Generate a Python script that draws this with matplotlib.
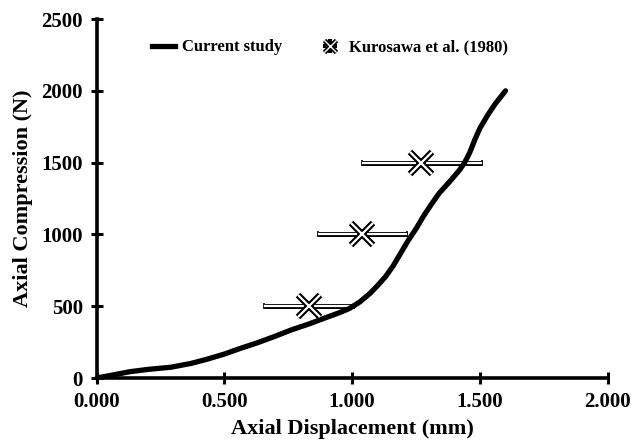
import numpy as np
import matplotlib
matplotlib.use("Agg")
import matplotlib.pyplot as plt
from matplotlib.lines import Line2D
from matplotlib.legend_handler import HandlerTuple

plt.rcParams['font.family'] = ['Liberation Serif', 'DejaVu Serif']
plt.rcParams['font.weight'] = 'bold'

# current study curve (displacement mm, force N)
disp = [0.0, 0.06, 0.13, 0.20, 0.29, 0.37, 0.43, 0.50, 0.56, 0.63, 0.70, 0.76,
        0.83, 0.89, 0.95, 0.99, 1.03, 1.07, 1.10, 1.13, 1.16, 1.19, 1.22, 1.25,
        1.28, 1.31, 1.34, 1.38, 1.42, 1.44, 1.46, 1.48, 1.50, 1.53, 1.56, 1.60]
force = [0, 20, 44, 60, 75, 102, 130, 167, 205, 246, 292, 334,
         376, 416, 455, 485, 530, 590, 645, 705, 780, 870, 960, 1040,
         1130, 1210, 1286, 1365, 1448, 1500, 1570, 1660, 1740, 1830, 1910, 2000]

# Kurosawa et al. (1980)
kx = [0.83, 1.04, 1.27]
ky = [500, 1000, 1500]
kerr_lo = [0.176, 0.174, 0.232]
kerr_hi = [0.176, 0.175, 0.240]

xticks = [0.0, 0.5, 1.0, 1.5, 2.0]
yticks = [0, 500, 1000, 1500, 2000, 2500]

fig = plt.figure(figsize=(6.34, 4.44), dpi=100)
ax = fig.add_axes([0.1525, 0.1486, 0.806, 0.8085])

# hollow error bars: black bar with white inside
xe = np.array([kerr_lo, kerr_hi])
ax.errorbar(kx, ky, xerr=xe, fmt='none', ecolor='black', elinewidth=3.6,
            capsize=2.5, capthick=1.2, zorder=2)
ax.hlines(ky, np.array(kx) - np.array(kerr_lo), np.array(kx) + np.array(kerr_hi),
          colors='white', linewidth=1.6, zorder=3)

ax.plot(disp, force, color='black', lw=3.8, solid_capstyle='round',
        solid_joinstyle='round', zorder=4)

# double-line X markers
ax.plot(kx, ky, ls='none', marker='x', ms=16, mew=4.6, mec='black', zorder=5)
ax.plot(kx, ky, ls='none', marker='x', ms=16, mew=1.6, mec='white', zorder=6)

ax.set_xlim(0, 2.0)
ax.set_ylim(0, 2500)
ax.set_xticks(xticks)
ax.set_xticklabels(['%.3f' % v for v in xticks])
ax.set_yticks(yticks)
ax.tick_params(direction='inout', length=8, width=2.2, labelsize=15, pad=6)
for s in ['top', 'right']:
    ax.spines[s].set_visible(False)
for s in ['left', 'bottom']:
    ax.spines[s].set_linewidth(2.6)

ax.set_xlabel('Axial Displacement (mm)', fontsize=16, fontweight='bold', labelpad=5)
ax.set_ylabel('Axial Compression (N)', fontsize=16, fontweight='bold', labelpad=6)

h_line = Line2D([], [], color='black', lw=3.8)
h_m1 = Line2D([], [], ls='none', marker='x', ms=9, mew=3.4, mec='black')
h_m2 = Line2D([], [], ls='none', marker='+', ms=10, mew=3.0, mec='black')
h_m3 = Line2D([], [], ls='none', marker='x', ms=9, mew=1.0, mec='white')
ax.legend([h_line, (h_m1, h_m2, h_m3)], ['Current study', 'Kurosawa et al. (1980)'],
          handler_map={tuple: HandlerTuple(ndivide=1)},
          loc='upper center', bbox_to_anchor=(0.456, 0.985), ncol=2, frameon=False,
          fontsize=12, handlelength=1.4, columnspacing=2.2, handletextpad=0.4)

fig.savefig('out.png', dpi=100)
